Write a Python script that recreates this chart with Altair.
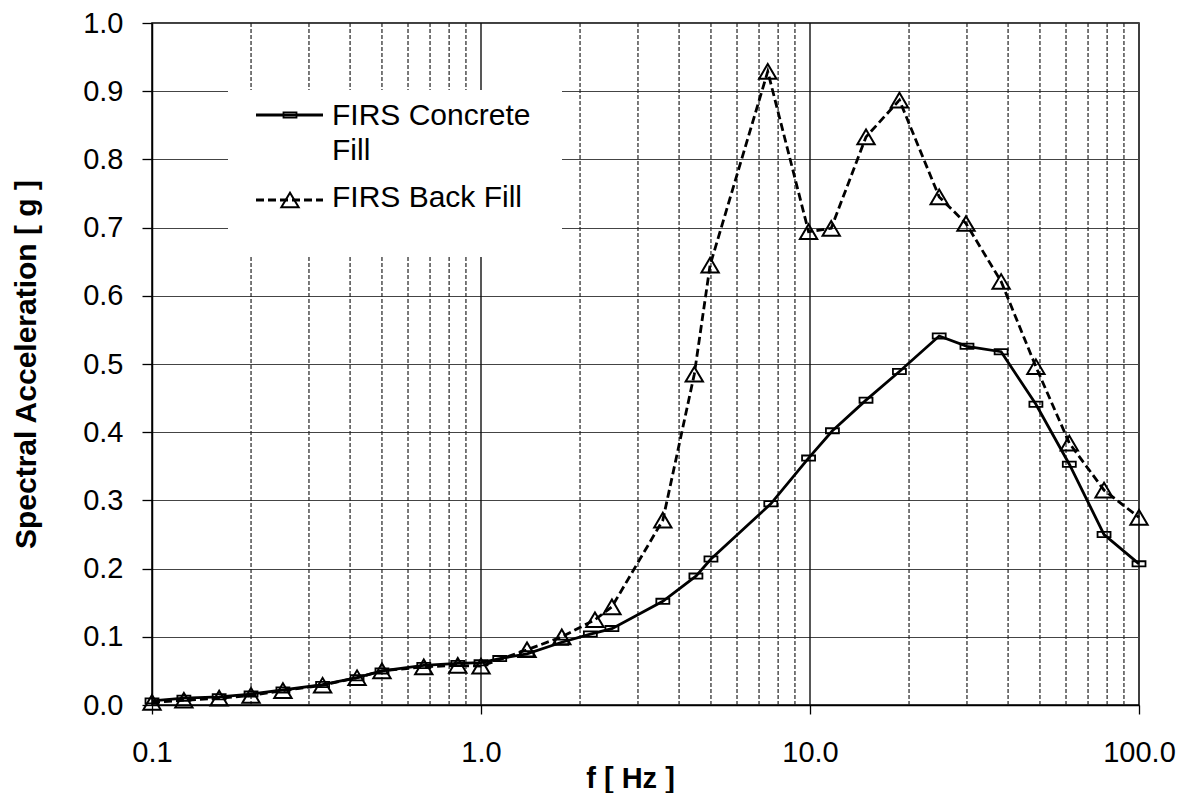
import altair as alt
import pandas as pd

# ---- data ----
conc_f = [0.1, 0.125, 0.16, 0.2, 0.25, 0.33, 0.42, 0.5, 0.67, 0.85, 1.0, 1.14, 1.38, 1.76,
          2.15, 2.5, 3.57, 4.5, 5.0, 7.6, 9.9, 11.7, 14.8, 18.7, 24.7, 30.0, 38.1, 48.6,
          61.4, 78.3, 100.0]
conc_sa = [0.006, 0.010, 0.012, 0.016, 0.022, 0.030, 0.040, 0.050, 0.058, 0.061, 0.062, 0.068,
           0.075, 0.092, 0.104, 0.112, 0.152, 0.189, 0.214, 0.295, 0.362, 0.402, 0.447, 0.489,
           0.541, 0.526, 0.518, 0.441, 0.353, 0.250, 0.207]

bf_f = [0.1, 0.125, 0.16, 0.2, 0.25, 0.33, 0.42, 0.5, 0.67, 0.85, 1.0, 1.38, 1.76, 2.22,
        2.5, 3.57, 4.45, 4.97, 7.44, 9.9, 11.6, 14.8, 18.7, 24.7, 29.8, 38.1, 48.6, 61.4,
        78.3, 100.0]
bf_sa = [0.004, 0.007, 0.010, 0.014, 0.021, 0.029, 0.040, 0.050, 0.056, 0.058, 0.057, 0.081,
         0.100, 0.125, 0.144, 0.271, 0.485, 0.645, 0.929, 0.694, 0.699, 0.833, 0.887, 0.745,
         0.706, 0.621, 0.496, 0.384, 0.315, 0.275]

x_ticks = [0.1, 1.0, 10.0, 100.0]
y_ticks = [0.0, 0.1, 0.2, 0.3, 0.4, 0.5, 0.6, 0.7, 0.8, 0.9, 1.0]
minor_f = [0.2, 0.3, 0.4, 0.5, 0.6, 0.7, 0.8, 0.9,
           2, 3, 4, 5, 6, 7, 8, 9,
           20, 30, 40, 50, 60, 70, 80, 90]
major_f = [1.0, 10.0]

series_names = ["FIRS Concrete", "Fill", "FIRS Back Fill"]

FONT = "Liberation Sans"
TRI = "M-1,0.85L0,-0.85L1,0.85Z"
BOX = "M-1,-0.4L1,-0.4L1,0.4L-1,0.4Z"

conc = pd.DataFrame({"f": conc_f, "sa": conc_sa})
bf = pd.DataFrame({"f": bf_f, "sa": bf_sa})

xs = alt.Scale(type="log", domain=[0.1, 100])
ys = alt.Scale(domain=[0, 1])

xaxis = alt.Axis(values=x_ticks, format=".1f", grid=False, tickSize=9,
                 tickColor="black", tickWidth=1.3, domainColor="black", domainWidth=1.5,
                 labelFontSize=29, labelFont=FONT, labelColor="black",
                 labelPadding=47, labelBaseline="alphabetic", labelFlush=False,
                 title="f [ Hz ]", titleFont=FONT, titleFontSize=29,
                 titleFontWeight="bold", titleColor="black",
                 titleBaseline="alphabetic", titleX=478, titleY=82)
yaxis = alt.Axis(values=y_ticks, format=".1f", grid=True, gridColor="#444",
                 gridWidth=1.2, tickSize=10, tickColor="black", tickWidth=1.3,
                 domainColor="black", domainWidth=1.5,
                 labelFontSize=29, labelFont=FONT, labelColor="black",
                 labelPadding=19, labelFlush=False,
                 title="Spectral Acceleration  [ g ]", titleFont=FONT,
                 titleFontSize=30, titleFontWeight="bold", titleColor="black",
                 titleBaseline="alphabetic", titleX=-117, titleY=341)

X = alt.X("f:Q", scale=xs, axis=xaxis)
Y = alt.Y("sa:Q", scale=ys, axis=yaxis)

one = alt.Data(values=[{"k": 1}])

minor = alt.Chart(pd.DataFrame({"f": minor_f})).mark_rule(
    color="#222", strokeWidth=1.2, strokeDash=[4, 2]
).encode(x=X)

major = alt.Chart(pd.DataFrame({"f": major_f})).mark_rule(
    color="#111", strokeWidth=1.4
).encode(x=X)

legend_bg = alt.Chart(one).mark_rect(color="white").encode(
    x=alt.value(76), x2=alt.value(410), y=alt.value(67), y2=alt.value(234)
)

conc_line = alt.Chart(conc).mark_line(color="black", strokeWidth=2.8).encode(x=X, y=Y)

conc_pts = alt.Chart(conc).mark_point(
    shape=BOX, size=169, filled=False, color="black", strokeWidth=1.8, opacity=1
).encode(x=X, y=Y)

bf_line = alt.Chart(bf).mark_line(color="black", strokeWidth=2.8, strokeDash=[8, 4]).encode(
    x=X, y=Y
)

bf_pts = alt.Chart(bf).mark_point(
    shape=TRI, size=300, filled=False, color="black", strokeWidth=2, opacity=1
).encode(x=X, y=Y)

# ---- legend drawn by hand ----
leg1 = alt.Chart(one).mark_rule(color="black", strokeWidth=2.8).encode(
    x=alt.value(104), x2=alt.value(171), y=alt.value(92))
leg1p = alt.Chart(one).mark_point(shape=BOX, size=169, filled=False, color="black",
                                  strokeWidth=1.8, opacity=1).encode(
    x=alt.value(138), y=alt.value(92))
leg2 = alt.Chart(one).mark_rule(color="black", strokeWidth=2.8, strokeDash=[8, 4]).encode(
    x=alt.value(104), x2=alt.value(171), y=alt.value(177))
leg2p = alt.Chart(one).mark_point(shape=TRI, size=300, filled=False, color="black",
                                  strokeWidth=2, opacity=1).encode(
    x=alt.value(138), y=alt.value(177))

def label(txt, y):
    return alt.Chart(one).mark_text(
        align="left", baseline="alphabetic", font=FONT, fontSize=30, color="black"
    ).encode(x=alt.value(180), y=alt.value(y), text=alt.value(txt))

chart = alt.layer(
    minor, major, legend_bg, conc_line, bf_line, conc_pts, bf_pts,
    leg1, leg1p, leg2, leg2p,
    label(series_names[0], 102), label(series_names[1], 137), label(series_names[2], 184),
).properties(
    width=987, height=682,
    autosize=alt.AutoSizeParams(type="none"),
    padding={"left": 144, "top": 15, "right": 40, "bottom": 88},
    background="white",
).configure_view(stroke="black", strokeWidth=1.5)

chart.save("out.html", embed_options={"renderer": "svg", "actions": False})
